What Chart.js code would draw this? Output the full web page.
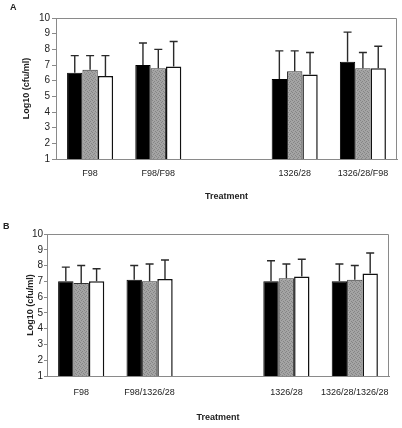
<!DOCTYPE html>
<html>
<head>
<meta charset="utf-8">
<script src="https://cdn.jsdelivr.net/npm/chart.js@4"></script>
<style>
  html, body { margin: 0; padding: 0; background: #fff; }
  .panel { position: relative; width: 402px; height: 214px; }
  .tag { position: absolute; font: bold 9px "Liberation Sans", Arial, sans-serif; color: #222; }
  canvas { display: block; }
</style>
</head>
<body>
<div class="panel"><span class="tag" style="left:10px;top:2px;">A</span><canvas id="cA" width="402" height="214"></canvas></div>
<div class="panel"><span class="tag" style="left:3px;top:7px;">B</span><canvas id="cB" width="402" height="214"></canvas></div>
<script>
// ---- Data ----
const yTicks = [1, 2, 3, 4, 5, 6, 7, 8, 9, 10];
const xTitle = 'Treatment';
const yTitle = 'Log10 (cfu/ml)';

const categoriesA = ['F98', 'F98/F98', '', '1326/28', '1326/28/F98'];
const blackA = [6.5, 7.0, null, 6.1, 7.2];
const grayA  = [6.7, 6.8, null, 6.6, 6.8];
const whiteA = [6.3, 6.9, null, 6.4, 6.8];
const blackErrA = [1.1, 1.4, null, 1.8, 1.9];
const grayErrA  = [0.9, 1.2, null, 1.3, 1.0];
const whiteErrA = [1.3, 1.6, null, 1.4, 1.4];

const categoriesB = ['F98', 'F98/1326/28', '', '1326/28', '1326/28/1326/28'];
const blackB = [7.0, 7.1, null, 7.0, 7.0];
const grayB  = [6.9, 7.0, null, 7.2, 7.1];
const whiteB = [7.0, 7.15, null, 7.3, 7.5];
const blackErrB = [0.9, 0.9, null, 1.3, 1.1];
const grayErrB  = [1.1, 1.1, null, 0.9, 0.9];
const whiteErrB = [0.8, 1.2, null, 1.1, 1.3];

// ---- Styling helpers ----
const FONT = '"Liberation Sans", Arial, sans-serif';
const TXT = '#222';
const AXIS = '#8a8a8a';

function stipple() {
  const c = document.createElement('canvas');
  c.width = 4; c.height = 4;
  const g = c.getContext('2d');
  g.fillStyle = '#a4a4a4'; g.fillRect(0, 0, 4, 4);
  g.fillStyle = '#858585';
  g.fillRect(0, 0, 1, 1); g.fillRect(2, 1, 1, 1); g.fillRect(1, 2, 1, 1); g.fillRect(3, 3, 1, 1);
  return g.createPattern(c, 'repeat');
}

const errorBars = {
  id: 'errorBars',
  afterDatasetsDraw(chart) {
    const ctx = chart.ctx;
    const ys = chart.scales.y;
    ctx.save();
    ctx.strokeStyle = '#2a2a2a';
    ctx.lineWidth = 1.4;
    chart.data.datasets.forEach((ds, i) => {
      const meta = chart.getDatasetMeta(i);
      meta.data.forEach((el, j) => {
        const v = ds.data[j];
        const e = ds.err[j];
        if (v == null || e == null) return;
        const yTop = ys.getPixelForValue(v + e);
        const yBar = ys.getPixelForValue(v);
        ctx.beginPath();
        ctx.moveTo(el.x, yBar);
        ctx.lineTo(el.x, yTop);
        ctx.moveTo(el.x - 4, yTop);
        ctx.lineTo(el.x + 4, yTop);
        ctx.stroke();
      });
    });
    ctx.restore();
  }
};

const frame = {
  id: 'frame',
  afterDraw(chart) {
    const a = chart.chartArea;
    const ctx = chart.ctx;
    ctx.save();
    ctx.strokeStyle = AXIS;
    ctx.lineWidth = 1;
    ctx.beginPath();
    ctx.moveTo(a.left, a.top + 0.5);
    ctx.lineTo(a.right - 0.5, a.top + 0.5);
    ctx.lineTo(a.right - 0.5, a.bottom);
    ctx.stroke();
    ctx.restore();
  }
};

function makeChart(id, cats, series, errs, cfg) {
  const pat = stipple();
  const datasets = [
    { data: series[0], err: errs[0], backgroundColor: '#000', borderColor: '#000', borderWidth: 1 },
    { data: series[1], err: errs[1], backgroundColor: pat, borderColor: '#333', borderWidth: 1 },
    { data: series[2], err: errs[2], backgroundColor: '#fff', borderColor: '#111', borderWidth: 1.5 }
  ];
  datasets.forEach(d => { d.categoryPercentage = 0.675; d.barPercentage = 1.0; d.borderSkipped = false; });
  return new Chart(document.getElementById(id), {
    type: 'bar',
    data: { labels: cats, datasets },
    options: {
      responsive: false,
      animation: false,
      events: [],
      layout: { padding: { top: cfg.top, right: cfg.right, left: 0, bottom: 0 } },
      plugins: { legend: { display: false }, tooltip: { enabled: false } },
      scales: {
        x: {
          grid: { display: false, drawTicks: false },
          border: { display: true, color: AXIS, width: 1 },
          ticks: { color: TXT, font: { family: FONT, size: 9 }, padding: cfg.xPad, maxRotation: 0, autoSkip: false },
          title: { display: true, text: xTitle, color: TXT, font: { family: FONT, size: 9, weight: 'bold' }, padding: { top: 0, bottom: cfg.xTitlePad } },
          afterFit(s) { s.height = cfg.xH; }
        },
        y: {
          min: yTicks[0], max: yTicks[yTicks.length - 1],
          afterBuildTicks(s) { s.ticks = yTicks.map(v => ({ value: v })); },
          grid: { drawOnChartArea: false, drawTicks: true, tickLength: cfg.tickLen, color: AXIS },
          border: { display: true, color: AXIS, width: 1 },
          ticks: { color: TXT, font: { family: FONT, size: 10 }, padding: cfg.yPad },
          title: { display: true, text: yTitle, color: TXT, font: { family: FONT, size: 9, weight: 'bold' }, padding: { top: cfg.yTitlePad, bottom: 0 } },
          afterFit(s) { s.width = cfg.yW; }
        }
      }
    },
    plugins: [errorBars, frame]
  });
}

makeChart('cA', categoriesA, [blackA, grayA, whiteA], [blackErrA, grayErrA, whiteErrA],
  { top: 18, right: 5, xH: 55, yW: 56, tickLen: 4, yPad: 2, xPad: 9, xTitlePad: 12, yTitlePad: 21 });
makeChart('cB', categoriesB, [blackB, grayB, whiteB], [blackErrB, grayErrB, whiteErrB],
  { top: 20, right: 13, xH: 52, yW: 47, tickLen: 3, yPad: 1, xPad: 11, xTitlePad: 5, yTitlePad: 25 });
</script>
</body>
</html>
